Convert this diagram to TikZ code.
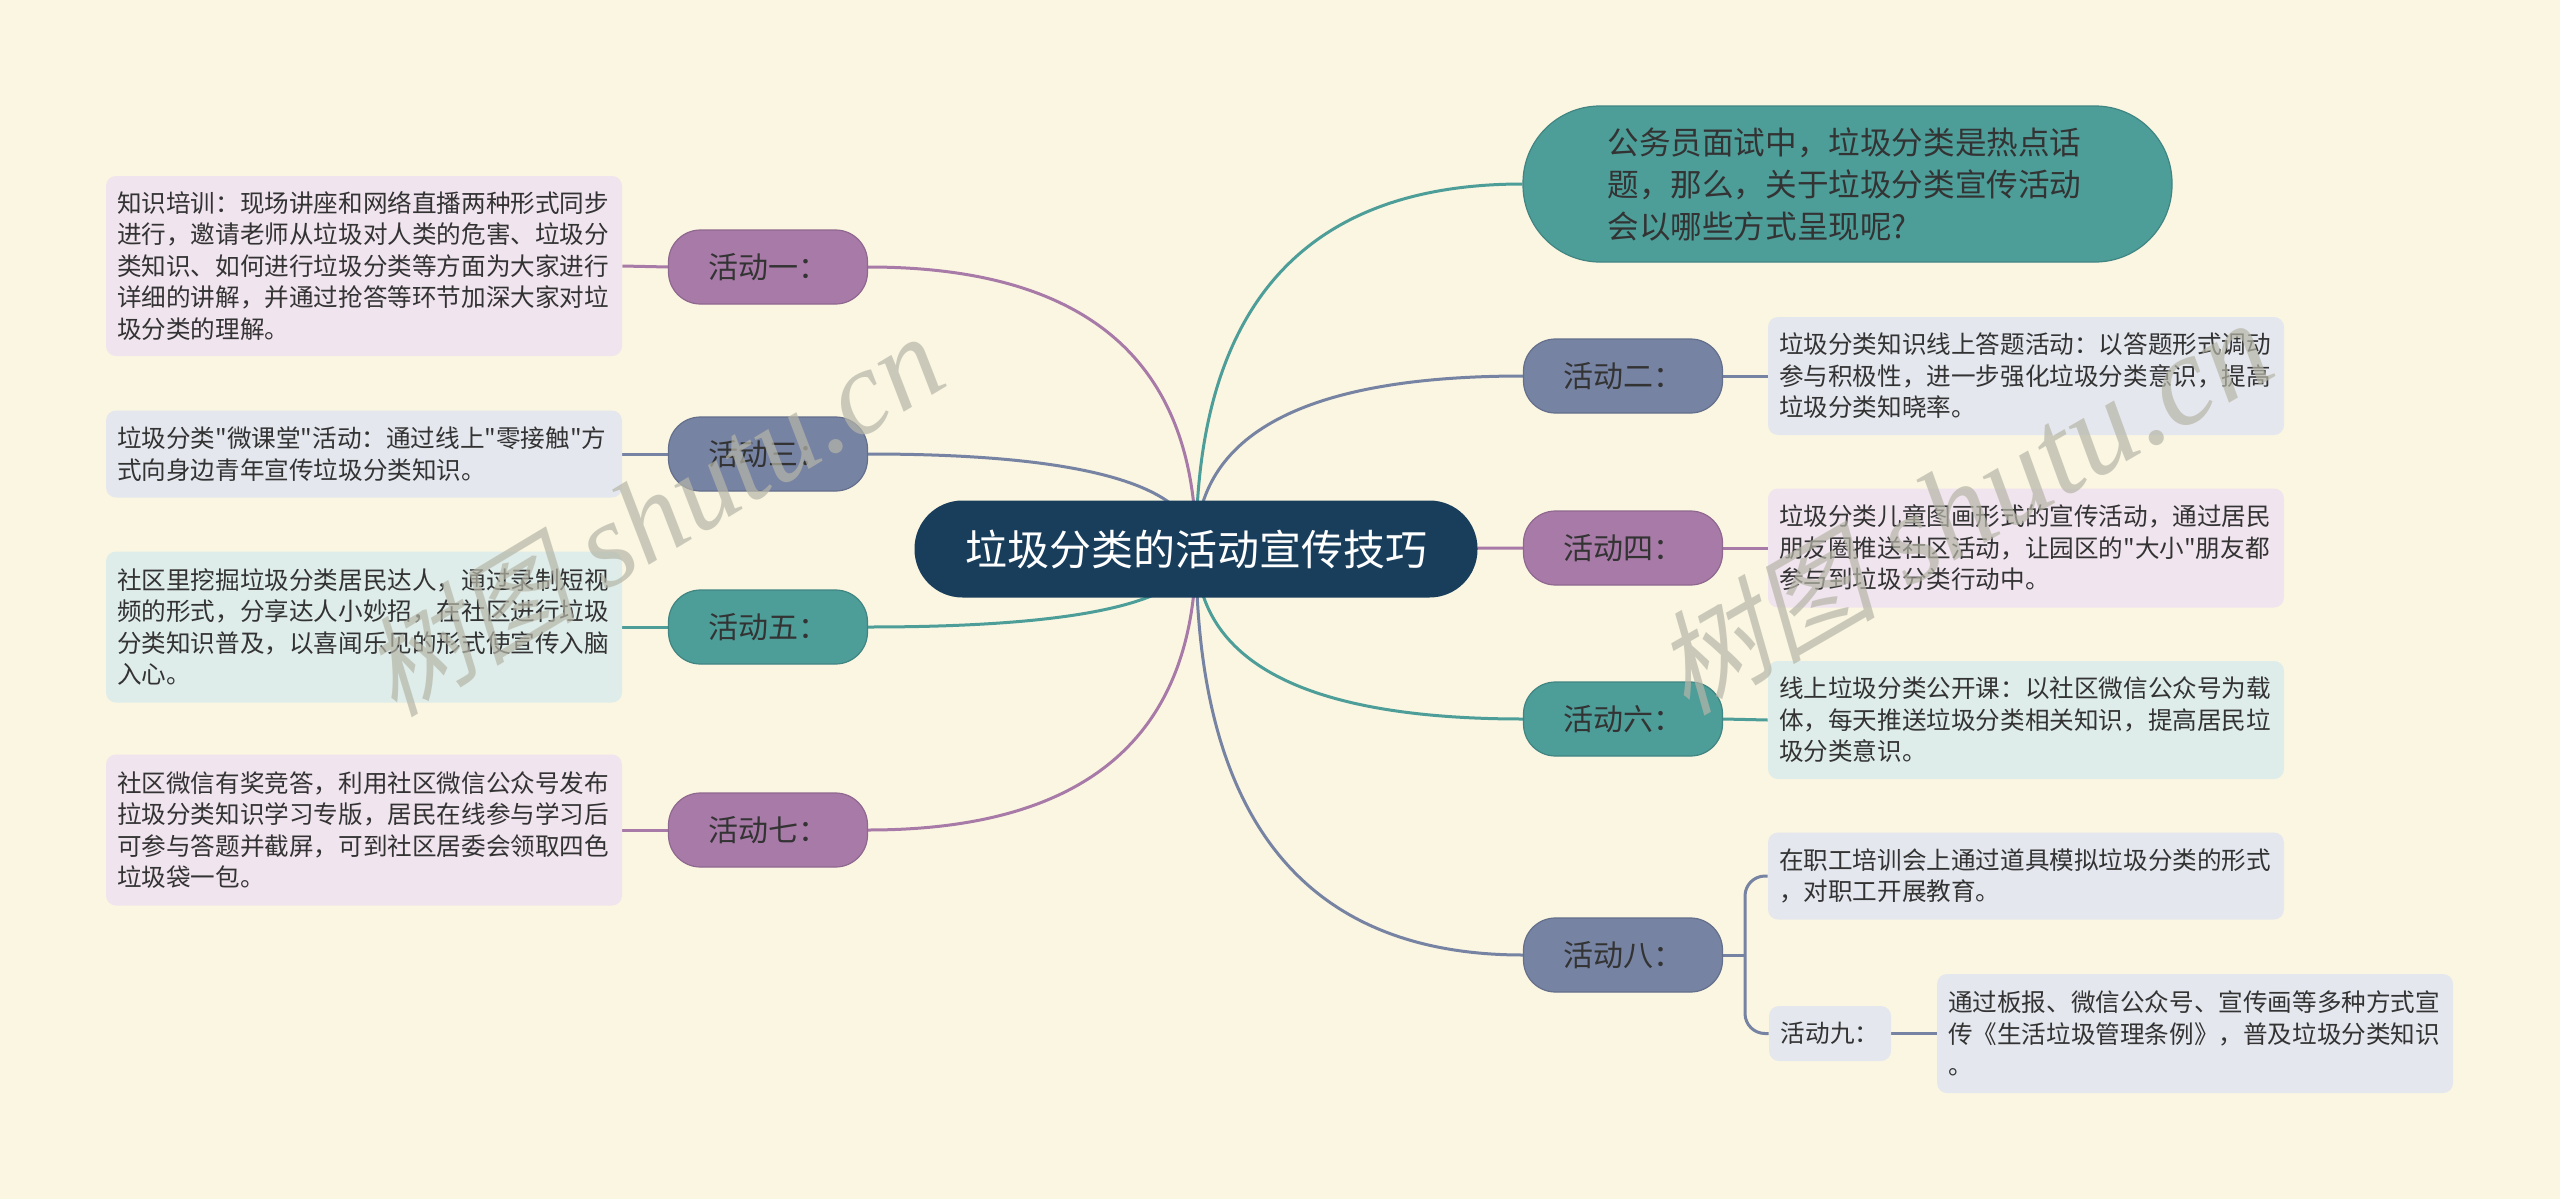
\documentclass[tikz,border=0pt]{standalone}
\usepackage{fontspec}
\setmainfont{Noto Sans CJK SC}[Ligatures=TeXOff]
\newfontfamily\wmcjk[FakeSlant=0.25]{Noto Sans CJK SC}
\newfontfamily\wmserif{Liberation Serif}
\usetikzlibrary{calc}
\definecolor{bgc}{HTML}{FBF6E2}
\definecolor{navy}{HTML}{183E5C}
\definecolor{cpurple}{HTML}{A87AA8}
\definecolor{cslate}{HTML}{7683A3}
\definecolor{cteal}{HTML}{4D9D99}
\definecolor{lpurple}{HTML}{F0E4EE}
\definecolor{lslate}{HTML}{E4E7EE}
\definecolor{lteal}{HTML}{DEECEA}
\definecolor{txt}{HTML}{333333}
\definecolor{wmc}{HTML}{B6B6A8}
\pgfdeclarelayer{background}
\pgfdeclarelayer{edges}
\pgfdeclarelayer{wmlayer}
\pgfsetlayers{background,edges,main,wmlayer}
\tikzset{
  act/.style={rounded corners=16pt, minimum width=99.5pt, minimum height=37pt,
    inner sep=0pt, font=\fontsize{15pt}{18pt}\selectfont, text=txt, line width=0.6pt},
  tbox/.style={rounded corners=5pt, text width=247pt, inner xsep=5.5pt, inner ysep=0pt,
    align=left, font=\fontsize{12.3pt}{15.75pt}\selectfont, text=txt},
  link/.style={line width=1.5pt},
  wm/.style={text=wmc, opacity=0.7, inner sep=0pt},
}
\newcommand\rootlink[2]{\draw[link, #2] (R.center) .. controls ($(R.center)!0.6667!(R.center |- #1)$) and ($(#1)!0.6667!(R.center |- #1)$) .. (#1);}
\begin{document}
\begin{tikzpicture}[x=0.5pt, y=-0.5pt]
\begin{pgfonlayer}{background}
\fill[bgc] (0,0) rectangle (2560,1199);
\end{pgfonlayer}
\useasboundingbox (0,0) rectangle (2560,1199);

% root
\node[rounded corners=24pt, fill=navy, minimum width=281.5pt, minimum height=48.5pt,
  inner sep=0pt, text=white, font=\fontsize{21pt}{25pt}\selectfont] (R) at (1196,549) {垃圾分类的活动宣传技巧};

% top question node
\node[rounded corners=38.5pt, fill=cteal, draw=cteal!85!black, line width=0.6pt, minimum width=324.5pt, minimum height=78pt,
  text width=240pt, align=left, inner sep=0pt, text=txt, font=\fontsize{15.8pt}{21pt}\selectfont] (q) at (1847.5,184)
  {公务员面试中，垃圾分类是热点话\\题，那么，关于垃圾分类宣传活动\\会以哪些方式呈现呢?};

% left activity nodes
\node[act, fill=cpurple, draw=cpurple!85!black] (a1) at (768,267) {活动一：};
\node[act, fill=cslate, draw=cslate!85!black] (a3) at (768,454) {活动三：};
\node[act, fill=cteal, draw=cteal!85!black] (a5) at (768,627) {活动五：};
\node[act, fill=cpurple, draw=cpurple!85!black] (a7) at (768,830) {活动七：};
% right activity nodes
\node[act, fill=cslate, draw=cslate!85!black] (a2) at (1623,376) {活动二：};
\node[act, fill=cpurple, draw=cpurple!85!black] (a4) at (1623,548) {活动四：};
\node[act, fill=cteal, draw=cteal!85!black] (a6) at (1623,719) {活动六：};
\node[act, fill=cslate, draw=cslate!85!black] (a8) at (1623,955) {活动八：};

% left text boxes
\node[tbox, fill=lpurple, minimum height=90pt] (t1) at (364,266)
  {知识培训：现场讲座和网络直播两种形式同步\\进行，邀请老师从垃圾对人类的危害、垃圾分\\类知识、如何进行垃圾分类等方面为大家进行\\详细的讲解，并通过抢答等环节加深大家对垃\\圾分类的理解。};
\node[tbox, fill=lslate, minimum height=43.5pt] (t3) at (364,454)
  {垃圾分类"微课堂"活动：通过线上"零接触"方\\式向身边青年宣传垃圾分类知识。};
\node[tbox, fill=lteal, minimum height=75.5pt] (t5) at (364,627)
  {社区里挖掘垃圾分类居民达人，通过录制短视\\频的形式，分享达人小妙招，在社区进行垃圾\\分类知识普及，以喜闻乐见的形式使宣传入脑\\入心。};
\node[tbox, fill=lpurple, minimum height=75.5pt] (t7) at (364,830)
  {社区微信有奖竞答，利用社区微信公众号发布\\拉圾分类知识学习专版，居民在线参与学习后\\可参与答题并截屏，可到社区居委会领取四色\\垃圾袋一包。};

% right text boxes
\node[tbox, fill=lslate, minimum height=59pt] (t2) at (2026,376)
  {垃圾分类知识线上答题活动：以答题形式调动\\参与积极性，进一步强化垃圾分类意识，提高\\垃圾分类知晓率。};
\node[tbox, fill=lpurple, minimum height=59.5pt] (t4) at (2026,548)
  {垃圾分类儿童图画形式的宣传活动，通过居民\\朋友圈推送社区活动，让园区的"大小"朋友都\\参与到垃圾分类行动中。};
\node[tbox, fill=lteal, minimum height=59pt] (t6) at (2026,720)
  {线上垃圾分类公开课：以社区微信公众号为载\\体，每天推送垃圾分类相关知识，提高居民垃\\圾分类意识。};
\node[tbox, fill=lslate, minimum height=43.5pt] (t8) at (2026,876)
  {在职工培训会上通过道具模拟垃圾分类的形式\\，对职工开展教育。};
\node[rounded corners=5pt, fill=lslate, minimum width=61pt, minimum height=27.5pt, inner sep=0pt,
  text=txt, font=\fontsize{12.3pt}{15.75pt}\selectfont] (j9) at (1830,1033.5) {活动九：};
\node[tbox, fill=lslate, minimum height=59.5pt] (t9) at (2195,1033.5)
  {通过板报、微信公众号、宣传画等多种方式宣\\传《生活垃圾管理条例》，普及垃圾分类知识\\。};

\coordinate (b8) at (1745,955);

\begin{pgfonlayer}{edges}
\rootlink{q.west}{cteal}
\rootlink{a1.east}{cpurple}
\rootlink{a3.east}{cslate}
\rootlink{a5.east}{cteal}
\rootlink{a7.east}{cpurple}
\rootlink{a2.west}{cslate}
\rootlink{a4.west}{cpurple}
\rootlink{a6.west}{cteal}
\rootlink{a8.west}{cslate}
\draw[link, cpurple] (a1.west) -- (t1.east);
\draw[link, cslate] (a3.west) -- (t3.east);
\draw[link, cteal] (a5.west) -- (t5.east);
\draw[link, cpurple] (a7.west) -- (t7.east);
\draw[link, cslate] (a2.east) -- (t2.west);
\draw[link, cpurple] (a4.east) -- (t4.west);
\draw[link, cteal] (a6.east) -- (t6.west);
\draw[link, cslate] (a8.east) -- (b8);
\draw[link, cslate, rounded corners=10pt] (b8) |- (t8.west);
\draw[link, cslate, rounded corners=10pt] (b8) |- (j9.west);
\draw[link, cslate] (j9.east) -- (t9.west);
\end{pgfonlayer}

\begin{pgfonlayer}{wmlayer}
\node[wm, rotate=31] (w1) at (652,516) {{\wmcjk\fontsize{54pt}{58pt}\selectfont 树图}{\wmserif\itshape\fontsize{60pt}{64pt}\selectfont\ shutu.cn}};
\node[wm, rotate=30] (w2) at (1962,508) {{\wmcjk\fontsize{56pt}{60pt}\selectfont 树图}{\wmserif\itshape\fontsize{64pt}{68pt}\selectfont\ shutu.cn}};
\end{pgfonlayer}
\end{tikzpicture}
\end{document}
